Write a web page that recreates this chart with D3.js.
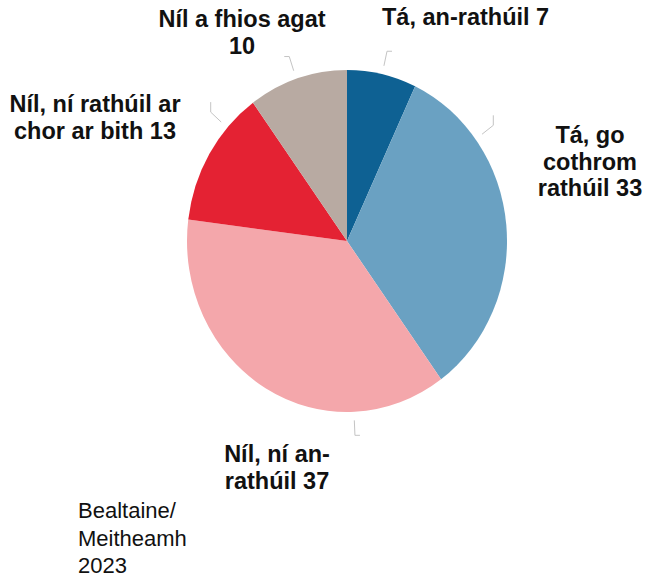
<!DOCTYPE html>
<html>
<head>
<meta charset="utf-8">
<style>
    body { margin: 0; background: #fff; }
    svg { display: block; }
    .label { font-family: 'Liberation Sans', Arial, sans-serif; font-size: 23.5px; font-weight: bold; fill: #111; }
    .note { font-family: 'Liberation Sans', Arial, sans-serif; font-size: 22px; fill: #111; }
    .leader { fill: none; stroke: #c4c4c4; stroke-width: 1; }
</style>
</head>
<body>
<svg width="648" height="580"></svg>

<script src="https://d3js.org/d3.v7.min.js"></script>
<script>
    // clockwise from 12 o'clock
    let categories = [
        "Tá, an-rathúil",
        "Tá, go cothrom rathúil",
        "Níl, ní an-rathúil",
        "Níl, ní rathúil ar chor ar bith",
        "Níl a fhios agat"
    ]
    let values = [7, 33, 37, 13, 10]
    let colors = ["#0e6193", "#6aa1c2", "#f4a7ab", "#e42233", "#b8aaa2"]

    // label lines, as printed
    let labelLines = [
        ["Tá, an-rathúil 7"],
        ["Tá, go", "cothrom", "rathúil 33"],
        ["Níl, ní an-", "rathúil 37"],
        ["Níl, ní rathúil ar", "chor ar bith 13"],
        ["Níl a fhios agat", "10"]
    ]

    let svg = d3.select("svg")

    let cx = 347, cy = 241
    let r = 160
    let yStretch = 171 / 160   // picture is a little taller than wide

    let data = categories.map((c, i) => ({ key: c, value: values[i], color: colors[i], lines: labelLines[i] }))

    let pie = d3.pie().sort(null).value(d => d.value)
    let arcs = pie(data)

    let arc = d3.arc().innerRadius(0).outerRadius(r)

    let g = svg.append("g")
        .attr("transform", `translate(${cx},${cy}) scale(1,${yStretch})`)

    g.selectAll("path")
        .data(arcs)
        .join("path")
        .attr("fill", d => d.data.color)
        .attr("d", arc)

    // where each leader line points (angle in degrees from top, clockwise)
    let leaderAngle = [12.7, 53.5, 177.5, 311.5, 341.5]
    // label block: anchor x, first baseline, text-anchor
    let labelPos = [
        { x: 382, y: 25, anchor: "start" },
        { x: 590, y: 143, anchor: "middle" },
        { x: 277, y: 462, anchor: "middle" },
        { x: 95, y: 112, anchor: "middle" },
        { x: 242, y: 27, anchor: "middle" }
    ]

    function polar(angleDeg, rad) {
        let a = angleDeg * Math.PI / 180
        return [cx + rad * Math.sin(a), cy - rad * Math.cos(a) * yStretch]
    }

    arcs.forEach((d, i) => {
        let p0 = polar(leaderAngle[i], r + 8)
        let p1 = polar(leaderAngle[i], r + 22)
        // short hook at the end
        let dirx = p1[0] > cx ? 1 : -1
        let hook = Math.abs(p1[1] - cy) > Math.abs(p1[0] - cx) ? [p1[0] + 5 * dirx, p1[1]] : [p1[0], p1[1] - 10]
        svg.append("polyline")
            .attr("class", "leader")
            .attr("points", [p0, p1, hook].map(p => p.join(",")).join(" "))
    })

    let labels = svg.append("g")
    arcs.forEach((d, i) => {
        let pos = labelPos[i]
        let t = labels.append("text")
            .attr("class", "label")
            .attr("text-anchor", pos.anchor)
        d.data.lines.forEach((line, j) => {
            t.append("tspan")
                .attr("x", pos.x)
                .attr("y", pos.y + j * 26.5)
                .text(line)
        })
    })

    let note = svg.append("text").attr("class", "note")
    ;["Bealtaine/", "Meitheamh", "2023"].forEach((line, j) => {
        note.append("tspan").attr("x", 78).attr("y", 518 + j * 27.5).text(line)
    })
</script>
</body>
</html>
